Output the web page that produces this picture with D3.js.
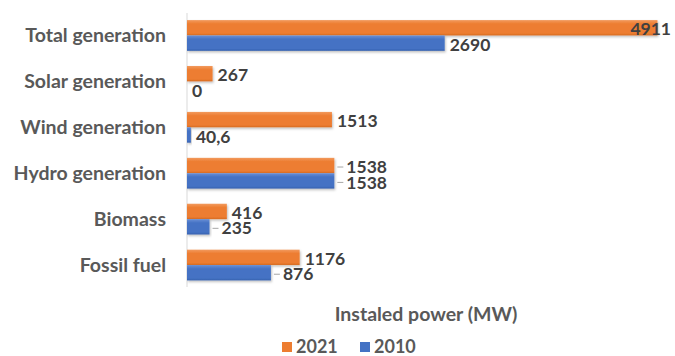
<!DOCTYPE html>
<html>
<head>
<meta charset="utf-8">
<script src="https://cdn.jsdelivr.net/npm/d3@7"></script>
<style>
  body { margin: 0; background: #fff; }
  text { font-family: Lato, "Open Sans", sans-serif; font-weight: bold; }
</style>
</head>
<body>
<script>
document.addEventListener("DOMContentLoaded", function () {
  const width = 675;
  const height = 356;

  // chart data
  const categories = ["Total generation", "Solar generation", "Wind generation", "Hydro generation", "Biomass", "Fossil fuel"];
  const seriesNames = ["2021", "2010"];
  const values2021 = [4911, 267, 1513, 1538, 416, 1176];
  const values2010 = [2690, 0, 40.6, 1538, 235, 876];
  const axisTitle = "Instaled power (MW)";

  const colors = { "2021": "#ED7D31", "2010": "#4472C4" };
  const lighter = { "2021": "#F29A5E", "2010": "#6A8FD6" };
  const darker = { "2021": "#D66B22", "2010": "#3660AE" };

  // labels drawn with a small leader line in the original
  const withLeader = new Set(["Hydro generation|2021", "Hydro generation|2010", "Biomass|2010", "Fossil fuel|2010"]);

  const rows = categories.map((c, i) => ({
    cat: c,
    bars: [
      { series: "2021", value: values2021[i] },
      { series: "2010", value: values2010[i] }
    ]
  }));

  const svg = d3.select("body")
    .append("svg")
    .attr("width", width)
    .attr("height", height);

  const defs = svg.append("defs");
  seriesNames.forEach(s => {
    const g = defs.append("linearGradient")
      .attr("id", "grad" + s)
      .attr("x1", 0).attr("y1", 0).attr("x2", 0).attr("y2", 1);
    g.append("stop").attr("offset", "0%").attr("stop-color", lighter[s]);
    g.append("stop").attr("offset", "25%").attr("stop-color", colors[s]);
    g.append("stop").attr("offset", "85%").attr("stop-color", colors[s]);
    g.append("stop").attr("offset", "100%").attr("stop-color", darker[s]);
  });
  const shadow = defs.append("filter").attr("id", "shadow")
    .attr("x", "-5%").attr("y", "-20%").attr("width", "115%").attr("height", "160%");
  shadow.append("feDropShadow")
    .attr("dx", 1).attr("dy", 1.5).attr("stdDeviation", 1)
    .attr("flood-color", "#000").attr("flood-opacity", 0.25);

  const x = d3.scaleLinear().domain([0, 5000]).range([187, 666]);
  const y = d3.scaleBand().domain(categories).range([12.5, 288])
    .paddingInner(0.33).paddingOuter(0.165);
  const ySub = d3.scaleBand().domain(seriesNames).range([0, y.bandwidth()]);

  // vertical axis line
  svg.append("line")
    .attr("x1", x(0)).attr("x2", x(0))
    .attr("y1", 13).attr("y2", 287)
    .attr("stroke", "#d9d9d9").attr("stroke-width", 1);

  // category labels
  svg.selectAll("text.cat")
    .data(categories)
    .enter()
    .append("text")
    .attr("class", "cat")
    .attr("x", 166)
    .attr("y", d => y(d) + y.bandwidth() / 2)
    .attr("dy", "0.35em")
    .attr("text-anchor", "end")
    .attr("fill", "#595959")
    .style("font-size", "19.5px")
    .text(d => d);

  const groups = svg.selectAll("g.row")
    .data(rows)
    .enter()
    .append("g")
    .attr("class", "row")
    .attr("transform", d => `translate(0,${y(d.cat)})`);

  groups.selectAll("rect")
    .data(d => d.bars)
    .enter()
    .append("rect")
    .attr("x", x(0))
    .attr("y", d => ySub(d.series))
    .attr("width", d => x(d.value) - x(0))
    .attr("height", ySub.bandwidth())
    .attr("fill", d => `url(#grad${d.series})`)
    .attr("filter", "url(#shadow)");

  // data labels
  groups.each(function (row) {
    const g = d3.select(this);
    row.bars.forEach(b => {
      const key = row.cat + "|" + b.series;
      const leader = withLeader.has(key);
      const end = x(b.value);
      const cy = ySub(b.series) + ySub.bandwidth() / 2 + 1.5;
      const gap = leader ? 12 : 5;
      const t = g.append("text")
        .attr("x", end + gap)
        .attr("y", cy)
        .attr("dy", "0.35em")
        .attr("fill", "#404040")
        .style("font-size", "17.5px")
        .text(String(b.value).replace(".", ","));
      const w = t.node().getComputedTextLength();
      if (end + gap + w > width - 4) {
        t.attr("x", width - 4 - w);
      }
      if (leader) {
        g.append("line")
          .attr("x1", end + 3).attr("x2", end + 9)
          .attr("y1", cy).attr("y2", cy)
          .attr("stroke", "#a6a6a6").attr("stroke-width", 1);
      }
    });
  });

  // axis title
  svg.append("text")
    .attr("x", 426)
    .attr("y", 321)
    .attr("text-anchor", "middle")
    .attr("fill", "#595959")
    .style("font-size", "19.5px")
    .text(axisTitle);

  // legend
  const legend = svg.selectAll("g.legend")
    .data(seriesNames)
    .enter()
    .append("g")
    .attr("class", "legend")
    .attr("transform", (d, i) => `translate(${282 + i * 78}, 342)`);

  legend.append("rect")
    .attr("width", 10)
    .attr("height", 10)
    .attr("fill", d => colors[d]);

  legend.append("text")
    .attr("x", 14)
    .attr("y", 5)
    .attr("dy", "0.35em")
    .attr("fill", "#595959")
    .style("font-size", "18px")
    .text(d => d);
});
</script>
</body>
</html>
